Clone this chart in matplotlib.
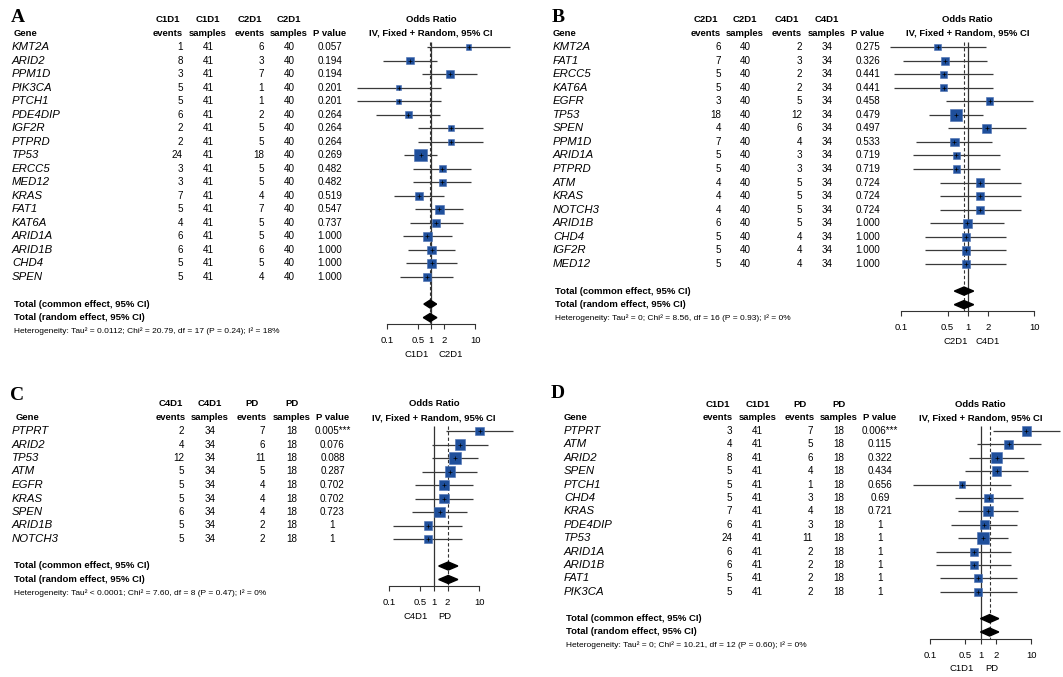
import matplotlib
matplotlib.use('Agg')
import matplotlib.pyplot as plt
import numpy as np
from matplotlib.patches import Polygon

plt.rcParams['font.family'] = ['Liberation Sans', 'DejaVu Sans']

W, H = 1063, 677

# ---------- A: C1D1 vs C2D1 ----------
a_groups = ('C1D1', 'C2D1')
a_genes = ['KMT2A', 'ARID2', 'PPM1D', 'PIK3CA', 'PTCH1', 'PDE4DIP', 'IGF2R', 'PTPRD', 'TP53',
           'ERCC5', 'MED12', 'KRAS', 'FAT1', 'KAT6A', 'ARID1A', 'ARID1B', 'CHD4', 'SPEN']
a_ev1 = [1, 8, 3, 5, 5, 6, 2, 2, 24, 3, 3, 7, 5, 4, 6, 6, 5, 5]
a_ev2 = [6, 3, 7, 1, 1, 2, 5, 5, 18, 5, 5, 4, 7, 5, 5, 6, 5, 4]
a_n = (41, 40)
a_p = ['0.057', '0.194', '0.194', '0.201', '0.201', '0.264', '0.264', '0.264', '0.269',
       '0.482', '0.482', '0.519', '0.547', '0.737', '1.000', '1.000', '1.000', '1.000']
a_or = [7.06, 0.334, 2.69, 0.185, 0.185, 0.307, 2.79, 2.79, 0.58, 1.81, 1.81, 0.54, 1.53, 1.32, 0.833, 1.03, 1.03, 0.80]
a_lo = [0.81, 0.082, 0.64, 0.021, 0.021, 0.058, 0.51, 0.51, 0.24, 0.40, 0.40, 0.145, 0.44, 0.33, 0.233, 0.30, 0.27, 0.20]
a_hi = [61.6, 1.36, 11.2, 1.66, 1.66, 1.62, 15.3, 15.3, 1.40, 8.1, 8.1, 2.01, 5.3, 5.3, 2.98, 3.5, 3.9, 3.2]
a_w = [0.82, 1.94, 1.88, 0.80, 0.80, 1.39, 1.33, 1.33, 4.96, 1.70, 1.70, 2.22, 2.49, 1.98, 2.36, 2.56, 2.19, 1.98]
a_common = (0.96, 0.69, 1.34)
a_random = (0.95, 0.67, 1.36)
a_het = 'Heterogeneity: Tau² = 0.0112; Chi² = 20.79, df = 17 (P = 0.24); I² = 18%'

# ---------- B: C2D1 vs C4D1 ----------
b_groups = ('C2D1', 'C4D1')
b_genes = ['KMT2A', 'FAT1', 'ERCC5', 'KAT6A', 'EGFR', 'TP53', 'SPEN', 'PPM1D', 'ARID1A', 'PTPRD',
           'ATM', 'KRAS', 'NOTCH3', 'ARID1B', 'CHD4', 'IGF2R', 'MED12']
b_ev1 = [6, 7, 5, 5, 3, 18, 4, 7, 5, 5, 4, 4, 4, 6, 5, 5, 5]
b_ev2 = [2, 3, 2, 2, 5, 12, 6, 4, 3, 3, 5, 5, 5, 5, 4, 4, 4]
b_n = (40, 34)
b_p = ['0.275', '0.326', '0.441', '0.441', '0.458', '0.479', '0.497', '0.533', '0.719', '0.719',
       '0.724', '0.724', '0.724', '1.000', '1.000', '1.000', '1.000']
b_or = [0.354, 0.456, 0.4375, 0.4375, 2.13, 0.667, 1.93, 0.629, 0.677, 0.677, 1.55, 1.55, 1.55, 0.977, 0.933, 0.933, 0.933]
b_lo = [0.067, 0.108, 0.079, 0.079, 0.47, 0.26, 0.50, 0.167, 0.149, 0.149, 0.38, 0.38, 0.38, 0.27, 0.23, 0.23, 0.23]
b_hi = [1.88, 1.92, 2.42, 2.42, 9.6, 1.71, 7.5, 2.36, 3.07, 3.07, 6.3, 6.3, 6.3, 3.54, 3.8, 3.8, 3.8]
b_w = [1.38, 1.86, 1.32, 1.32, 1.68, 4.35, 2.08, 2.19, 1.68, 1.68, 1.95, 1.95, 1.95, 2.32, 1.95, 1.95, 1.95]
b_common = (0.88, 0.63, 1.23)
b_random = (0.88, 0.63, 1.23)
b_het = 'Heterogeneity: Tau² = 0; Chi² = 8.56, df = 16 (P = 0.93); I² = 0%'

# ---------- C: C4D1 vs PD ----------
c_groups = ('C4D1', 'PD')
c_genes = ['PTPRT', 'ARID2', 'TP53', 'ATM', 'EGFR', 'KRAS', 'SPEN', 'ARID1B', 'NOTCH3']
c_ev1 = [2, 4, 12, 5, 5, 5, 6, 5, 5]
c_ev2 = [7, 6, 11, 5, 4, 4, 4, 2, 2]
c_n = (34, 18)
c_p = ['0.005***', '0.076', '0.088', '0.287', '0.702', '0.702', '0.723', '1', '1']
c_or = [10.2, 3.75, 2.88, 2.23, 1.66, 1.66, 1.33, 0.725, 0.725]
c_lo = [1.83, 0.90, 0.885, 0.55, 0.384, 0.384, 0.323, 0.126, 0.126]
c_hi = [56.5, 15.7, 9.4, 9.1, 7.15, 7.15, 5.5, 4.17, 4.17]
c_w = [1.31, 1.88, 2.76, 1.96, 1.80, 1.80, 1.91, 1.26, 1.26]
c_common = (2.07, 1.27, 3.37)
c_random = (2.07, 1.27, 3.37)
c_het = 'Heterogeneity: Tau² < 0.0001; Chi² = 7.60, df = 8 (P = 0.47); I² = 0%'

# ---------- D: C1D1 vs PD ----------
d_groups = ('C1D1', 'PD')
d_genes = ['PTPRT', 'ATM', 'ARID2', 'SPEN', 'PTCH1', 'CHD4', 'KRAS', 'PDE4DIP', 'TP53',
           'ARID1A', 'ARID1B', 'FAT1', 'PIK3CA']
d_ev1 = [3, 4, 8, 5, 5, 5, 7, 6, 24, 6, 6, 5, 5]
d_ev2 = [7, 5, 6, 4, 1, 3, 4, 3, 11, 2, 2, 2, 2]
d_n = (41, 18)
d_p = ['0.006***', '0.115', '0.322', '0.434', '0.656', '0.69', '0.721', '1', '1', '1', '1', '1', '1']
d_or = [8.06, 3.56, 2.06, 2.06, 0.424, 1.44, 1.39, 1.17, 1.11, 0.729, 0.729, 0.90, 0.90]
d_lo = [1.78, 0.83, 0.59, 0.48, 0.046, 0.305, 0.35, 0.257, 0.358, 0.132, 0.132, 0.158, 0.158]
d_hi = [36.5, 15.3, 7.2, 8.8, 3.91, 6.8, 5.5, 5.3, 3.46, 4.02, 4.02, 5.14, 5.14]
d_w = [1.69, 1.81, 2.47, 1.82, 0.78, 1.59, 2.03, 1.68, 2.99, 1.32, 1.32, 1.27, 1.27]
d_common = (1.50, 0.99, 2.28)
d_random = (1.50, 0.99, 2.28)
d_het = 'Heterogeneity: Tau² = 0; Chi² = 10.21, df = 12 (P = 0.60); I² = 0%'

panels = [
    dict(letter='A', groups=a_groups, genes=a_genes, ev1=a_ev1, ev2=a_ev2, n=a_n, p=a_p,
         est=a_or, lo=a_lo, hi=a_hi, w=a_w, common=a_common, random=a_random, het=a_het),
    dict(letter='B', groups=b_groups, genes=b_genes, ev1=b_ev1, ev2=b_ev2, n=b_n, p=b_p,
         est=b_or, lo=b_lo, hi=b_hi, w=b_w, common=b_common, random=b_random, het=b_het),
    dict(letter='C', groups=c_groups, genes=c_genes, ev1=c_ev1, ev2=c_ev2, n=c_n, p=c_p,
         est=c_or, lo=c_lo, hi=c_hi, w=c_w, common=c_common, random=c_random, het=c_het),
    dict(letter='D', groups=d_groups, genes=d_genes, ev1=d_ev1, ev2=d_ev2, n=d_n, p=d_p,
         est=d_or, lo=d_lo, hi=d_hi, w=d_w, common=d_common, random=d_random, het=d_het),
]

# layout in pixels: letter pos, gene x, gene header x, events1 right, events1 hdr, samples1,
# events2 right, events2 hdr, samples2, p value, OR=1 position, px per decade, first row y, row step,
# left/right arm labels
layouts = [
    dict(letter=(18, 18), gx=12, ghx=25.5, e1=183, e1h=168, s1=208, e2=264, e2h=250, s2=289,
         px=330, x1=431, ppd=44.2, y0=47, dy=13.53, arm=(417, 451)),
    dict(letter=(558, 17), gx=553, ghx=564.5, e1=721, e1h=706, s1=745, e2=802, e2h=787, s2=827,
         px=868, x1=967.7, ppd=66.5, y0=47, dy=13.56, arm=(956, 988)),
    dict(letter=(17, 395), gx=12, ghx=27, e1=184, e1h=170.5, s1=210, e2=265.5, e2h=252, s2=292,
         px=332.5, x1=434, ppd=45.2, y0=431, dy=13.5, arm=(416, 445)),
    dict(letter=(558, 394), gx=564, ghx=575.5, e1=732, e1h=717.5, s1=757.5, e2=813, e2h=800, s2=839,
         px=880, x1=980.7, ppd=50.5, y0=431, dy=13.4, arm=(962, 992)),
]

fig = plt.figure(figsize=(W / 100, H / 100), dpi=100)
ov = fig.add_axes([0, 0, 1, 1])
ov.set_xlim(0, W)
ov.set_ylim(H, 0)
ov.axis('off')

hdr = dict(fontsize=6.8, fontweight='bold', ha='center', va='center')
num = dict(fontsize=7.1, va='center')
sq_color = '#1f4f9b'

for p, L in zip(panels, layouts):
    n = len(p['genes'])
    y0, dy = L['y0'], L['dy']
    ov.text(*L['letter'], p['letter'], fontsize=14, fontweight='bold', family='Liberation Serif',
            ha='center', va='center')
    # headers
    r1, r2 = y0 - 2 * dy, y0 - dy
    g1, g2 = p['groups']
    for x, t1, t2 in [(L['e1h'], g1, 'events'), (L['s1'], g1, 'samples'),
                      (L['e2h'], g2, 'events'), (L['s2'], g2, 'samples')]:
        ov.text(x, r1, t1, **hdr)
        ov.text(x, r2, t2, **hdr)
    ov.text(L['ghx'], r2, 'Gene', **hdr)
    ov.text(L['px'], r2, 'P value', **hdr)
    ov.text(L['x1'], r1, 'Odds Ratio', **hdr)
    ov.text(L['x1'], r2, 'IV, Fixed + Random, 95% CI', **hdr)
    # rows
    for i in range(n):
        y = y0 + i * dy
        ov.text(L['gx'], y, p['genes'][i], fontsize=8.2, style='italic', va='center', ha='left')
        ov.text(L['e1'], y, str(p['ev1'][i]), ha='right', **num)
        ov.text(L['s1'], y, str(p['n'][0]), ha='center', **num)
        ov.text(L['e2'], y, str(p['ev2'][i]), ha='right', **num)
        ov.text(L['s2'], y, str(p['n'][1]), ha='center', **num)
        ov.text(L['px'], y, p['p'][i], ha='center', **num)
    ov.text(L['gx'] + 2, y0 + (n + 1) * dy, 'Total (common effect, 95% CI)', fontsize=6.8,
            fontweight='bold', va='center')
    ov.text(L['gx'] + 2, y0 + (n + 2) * dy, 'Total (random effect, 95% CI)', fontsize=6.8,
            fontweight='bold', va='center')
    ov.text(L['gx'] + 2, y0 + (n + 3) * dy, p['het'], fontsize=6.0, va='center')
    ybot = y0 + (n + 2.5) * dy
    ov.text(L['arm'][0], ybot + 30, g1, fontsize=6.8, ha='center', va='center')
    ov.text(L['arm'][1], ybot + 30, g2, fontsize=6.8, ha='center', va='center')

    # forest axes
    ppd, x1 = L['ppd'], L['x1']
    top_px = y0 - 0.6 * dy
    ax = fig.add_axes([(x1 - 2 * ppd) / W, 1 - ybot / H, 4 * ppd / W, (ybot - top_px) / H])
    ax.set_xscale('log')
    ax.set_xlim(0.01, 100)
    ax.set_ylim(n + 2.5, -0.6)
    ax.patch.set_alpha(0)
    for s in ['top', 'left', 'right']:
        ax.spines[s].set_visible(False)
    ax.spines['bottom'].set_bounds(0.1, 10)
    ax.spines['bottom'].set_linewidth(0.8)
    ax.spines['bottom'].set_color('#333333')
    ax.set_yticks([])
    ax.set_xticks([0.1, 0.5, 1, 2, 10])
    ax.set_xticklabels(['0.1', '0.5', '1', '2', '10'])
    ax.minorticks_off()
    ax.tick_params(axis='x', direction='out', length=3.5, width=0.8, color='#333333',
                   labelsize=6.8, pad=5)

    rows = np.arange(n)
    est = np.array(p['est'])
    w = np.array(p['w'])
    ax.vlines(1, -0.4, n + 2.5, color='#333333', lw=0.9, zorder=1)
    ax.vlines(p['common'][0], -0.4, n + 2.5, color='#333333', lw=0.8, linestyles=(0, (3, 2)), zorder=1)
    ax.hlines(rows, p['lo'], p['hi'], color='#3a3a3a', lw=0.9, zorder=2)
    side = 12.3 * np.sqrt(w / w.max()) * 0.72
    ax.scatter(est, rows, s=side ** 2, marker='s', color=sq_color, edgecolors='#4a70b2',
               linewidths=0.4, zorder=3)
    ax.scatter(est, rows, s=5, marker='+', color='black', linewidths=0.5, zorder=4)
    for yy, (m, lo, hi) in [(n + 1, p['common']), (n + 2, p['random'])]:
        ax.add_patch(Polygon([(lo, yy), (m, yy - 0.3), (hi, yy), (m, yy + 0.3)],
                             closed=True, color='black', zorder=3))

fig.savefig('out.png', dpi=100, facecolor='white')
